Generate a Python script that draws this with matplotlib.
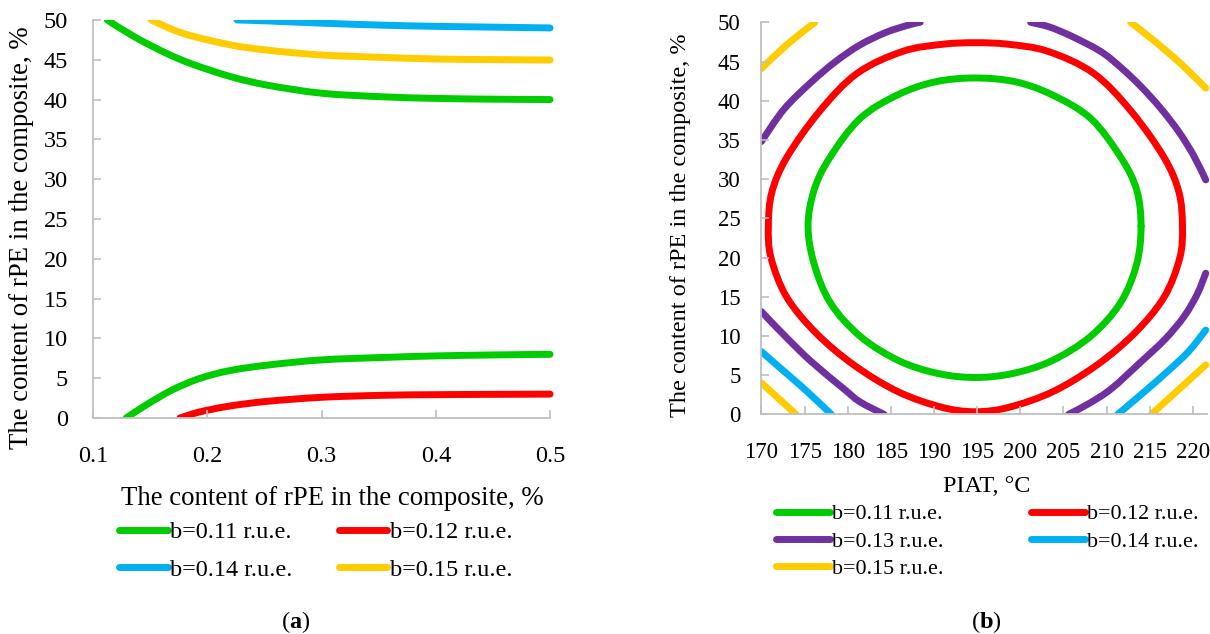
import matplotlib
matplotlib.use('Agg')
import matplotlib.pyplot as plt
import numpy as np
from matplotlib.lines import Line2D
from matplotlib.path import Path
from matplotlib.patches import PathPatch
from matplotlib.transforms import Bbox, TransformedBbox

plt.rcParams['font.family'] = 'Liberation Serif'
plt.rcParams['mathtext.fontset'] = 'custom'
plt.rcParams['mathtext.rm'] = 'Liberation Serif'
plt.rcParams['mathtext.bf'] = 'Liberation Serif:bold'

GREEN = '#00cc00'
RED = '#ff0000'
PURPLE = '#7030a0'
BLUE = '#00b0f0'
YELLOW = '#ffcc00'
AXIS = '#bfbfbf'

# ---- panel (a): content of rPE vs content of rPE
a_x_011_up = [0.1124, 0.136, 0.163, 0.186, 0.22, 0.253, 0.3, 0.353, 0.4, 0.45, 0.5]
a_y_011_up = [50.0, 47.9, 45.9, 44.5, 42.9, 41.8, 40.8, 40.35, 40.15, 40.05, 40.0]
a_x_011_lo = [0.129, 0.146, 0.169, 0.193, 0.2195, 0.253, 0.3, 0.353, 0.4, 0.45, 0.5]
a_y_011_lo = [0.0, 1.6, 3.5, 4.95, 5.95, 6.65, 7.3, 7.6, 7.8, 7.92, 8.0]
a_x_012 = [0.176, 0.193, 0.2195, 0.253, 0.3, 0.353, 0.4, 0.45, 0.5]
a_y_012 = [0.0, 0.75, 1.5, 2.1, 2.6, 2.85, 2.93, 2.97, 3.0]
a_x_014 = [0.226, 0.253, 0.3, 0.353, 0.4, 0.45, 0.5]
a_y_014 = [50.0, 49.88, 49.6, 49.35, 49.2, 49.1, 49.0]
a_x_015 = [0.151, 0.179, 0.2195, 0.253, 0.3, 0.353, 0.4, 0.45, 0.5]
a_y_015 = [50.0, 48.3, 46.9, 46.2, 45.6, 45.3, 45.1, 45.02, 44.97]

# ---- panel (b): content of rPE vs PIAT
b_x_011 = [214.0, 213.5, 211.7, 208.2, 203.8, 199.5, 194.8, 190.1, 185.7, 181.4, 177.9, 176.1,
           175.4, 176.1, 178.0, 181.5, 186.0, 190.5, 194.8, 199.1, 203.6, 208.1, 211.6, 213.5,
           214.0]
b_y_011 = [24.0, 28.6, 32.7, 37.7, 40.7, 42.4, 42.9, 42.4, 40.7, 37.7, 32.7, 28.6,
           24.0, 19.2, 14.2, 9.9, 6.8, 5.2, 4.7, 5.2, 6.8, 9.9, 14.2, 19.2,
           24.0]
b_x_012 = [218.8, 218.4, 216.7, 212.9, 208.5, 203.2, 198.6, 194.8, 191.0, 186.4, 181.1, 176.7,
           172.9, 171.2, 170.8, 171.1, 172.9, 176.3, 180.7, 185.8, 190.9, 194.8, 198.7, 203.8,
           208.9, 213.3, 216.7, 218.5, 218.8]
b_y_012 = [24.0, 28.3, 32.7, 38.6, 43.5, 46.3, 47.2, 47.4, 47.2, 46.3, 43.5, 38.6,
           32.7, 28.3, 24.0, 20.0, 15.0, 10.4, 6.3, 2.9, 0.9, 0.33, 0.9, 2.9,
           6.3, 10.4, 15.0, 20.0, 24.0]
b_x_013_ul = [170.0, 172.6, 175.8, 178.6, 181.4, 184.4, 187.2, 188.4]
b_y_013_ul = [34.8, 38.9, 42.4, 45.0, 47.1, 48.7, 49.7, 50.0]
b_x_013_ur = [201.2, 203.4, 206.0, 209.3, 211.6, 214.0, 216.3, 218.4, 220.1, 221.5]
b_y_013_ur = [50.0, 49.4, 48.2, 46.3, 44.3, 41.8, 39.0, 36.0, 33.0, 29.9]
b_x_013_ll = [170.0, 172.8, 175.8, 179.6, 181.4, 184.2]
b_y_013_ll = [13.1, 9.9, 6.7, 3.2, 1.6, 0.0]
b_x_013_lr = [205.6, 208.0, 210.6, 213.9, 216.8, 219.0, 220.5, 221.5]
b_y_013_lr = [0.0, 1.4, 3.3, 6.6, 9.6, 12.5, 15.3, 18.0]
b_x_014_ll = [170.0, 172.6, 175.2, 178.1]
b_y_014_ll = [8.0, 5.5, 3.0, 0.0]
b_x_014_lr = [211.3, 214.3, 217.0, 219.5, 221.5]
b_y_014_lr = [0.0, 2.8, 5.4, 8.0, 10.75]
b_x_015_ll = [170.0, 172.0, 174.0]
b_y_015_ll = [4.0, 2.0, 0.0]
b_x_015_lr = [215.2, 218.4, 221.5]
b_y_015_lr = [0.0, 3.2, 6.3]
b_x_015_ul = [170.0, 173.0, 176.2]
b_y_015_ul = [44.1, 47.2, 50.0]
b_x_015_ur = [212.8, 215.0, 217.3, 219.5, 221.5]
b_y_015_ur = [50.0, 48.1, 46.0, 43.8, 41.6]

a_xticks = [0.1, 0.2, 0.3, 0.4, 0.5]
b_xticks = [170, 175, 180, 185, 190, 195, 200, 205, 210, 215, 220]
yticks = [0, 5, 10, 15, 20, 25, 30, 35, 40, 45, 50]
labels = ['b=0.11 r.u.e.', 'b=0.12 r.u.e.', 'b=0.13 r.u.e.', 'b=0.14 r.u.e.', 'b=0.15 r.u.e.']
ylab = 'The content of rPE in the composite, %'


def smooth_path(x, y):
    # smoothed line through the points (like Excel's "smoothed line"), Catmull-Rom as Bezier
    p = np.column_stack([x, y]).astype(float)
    n = len(p)
    closed = np.allclose(p[0], p[-1])
    verts = [p[0]]
    for i in range(n - 1):
        p0 = p[i - 1] if i > 0 else (p[-2] if closed else p[0])
        p3 = p[i + 2] if i + 2 < n else (p[1] if closed else p[-1])
        verts += [p[i] + (p[i + 1] - p0) / 6, p[i + 1] - (p3 - p[i]) / 6, p[i + 1]]
    codes = [Path.MOVETO] + [Path.CURVE4] * (3 * (n - 1))
    return Path(verts, codes)


def curve(ax, x, y, color, xmax_clip):
    pp = PathPatch(smooth_path(x, y), fill=False, edgecolor=color, lw=5,
                   capstyle='round', joinstyle='round')
    ax.add_patch(pp)
    pp.set_clip_path(None)
    ylo, yhi = ax.get_ylim()
    pp.set_clip_box(TransformedBbox(Bbox([[ax.get_xlim()[0], ylo], [xmax_clip, yhi]]), ax.transData))
    return pp


def style(ax, fs, xpad, ypad):
    for s in ['top', 'right']:
        ax.spines[s].set_visible(False)
    for s in ['left', 'bottom']:
        ax.spines[s].set_color(AXIS)
        ax.spines[s].set_linewidth(1.3)
    ax.tick_params(direction='in', length=5.5, width=1.2, color=AXIS, labelsize=fs)
    ax.tick_params(axis='x', pad=xpad)
    ax.tick_params(axis='y', pad=ypad)
    ax.set_yticks(yticks)


fig = plt.figure(figsize=(12.1, 6.34), dpi=100)

# panel (a)
ax1 = fig.add_axes([0.0769, 0.3407, 0.3777, 0.6278])
ax1.set_xlim(0.1, 0.5)
ax1.set_ylim(0, 50)
curve(ax1, a_x_011_up, a_y_011_up, GREEN, 0.52)
curve(ax1, a_x_011_lo, a_y_011_lo, GREEN, 0.52)
curve(ax1, a_x_012, a_y_012, RED, 0.52)
curve(ax1, a_x_014, a_y_014, BLUE, 0.52)
curve(ax1, a_x_015, a_y_015, YELLOW, 0.52)
style(ax1, 17.5, 20, 18)
ax1.set_xticks(a_xticks)
ax1.set_xticklabels(['%.1f' % v for v in a_xticks])
fig.text(0.0174, 0.6254, ylab, rotation=90, ha='center', va='center', fontsize=19.3)
fig.text(0.2744, 0.213, ylab, ha='center', va='center', fontsize=19.3)
ha = [Line2D([], [], color=c, lw=5, solid_capstyle='round') for c in [GREEN, BLUE, RED, YELLOW]]
fig.legend(ha, [labels[0], labels[3], labels[1], labels[4]], ncol=2, loc='upper left',
           bbox_to_anchor=(0.0983, 0.178), frameon=False, fontsize=17.5, borderpad=0,
           borderaxespad=0, handlelength=2.0, handletextpad=0.1, columnspacing=1.9,
           labelspacing=0.65)
fig.text(0.2444, 0.019, r'($\mathbf{a}$)', ha='center', va='center', fontsize=17.5)

# panel (b)
ax2 = fig.add_axes([0.6293, 0.3465, 0.3679, 0.6183])
ax2.set_xlim(170, 221.6)
ax2.set_ylim(0, 50)
curve(ax2, b_x_011, b_y_011, GREEN, 223)
curve(ax2, b_x_012, b_y_012, RED, 223)
for xs, ys in [(b_x_013_ul, b_y_013_ul), (b_x_013_ur, b_y_013_ur),
               (b_x_013_ll, b_y_013_ll), (b_x_013_lr, b_y_013_lr)]:
    curve(ax2, xs, ys, PURPLE, 223)
for xs, ys in [(b_x_014_ll, b_y_014_ll), (b_x_014_lr, b_y_014_lr)]:
    curve(ax2, xs, ys, BLUE, 223)
for xs, ys in [(b_x_015_ll, b_y_015_ll), (b_x_015_lr, b_y_015_lr),
               (b_x_015_ul, b_y_015_ul), (b_x_015_ur, b_y_015_ur)]:
    curve(ax2, xs, ys, YELLOW, 223)
style(ax2, 16.5, 20, 15)
ax2.set_xticks(b_xticks)
fig.text(0.5625, 0.645, ylab, rotation=90, ha='center', va='center', fontsize=17.5)
fig.text(0.8155, 0.232, 'PIAT, °C', ha='center', va='center', fontsize=17.5)
hb = [Line2D([], [], color=c, lw=5, solid_capstyle='round') for c in [GREEN, PURPLE, YELLOW, RED, BLUE]]
fig.legend(hb, [labels[0], labels[2], labels[4], labels[1], labels[3]], ncol=2, loc='upper left',
           bbox_to_anchor=(0.6413, 0.205), frameon=False, fontsize=15.8, borderpad=0,
           borderaxespad=0, handlelength=2.45, handletextpad=0.1, columnspacing=4.0,
           labelspacing=0.32)
fig.text(0.8147, 0.019, r'($\mathbf{b}$)', ha='center', va='center', fontsize=17.5)

fig.savefig('out.png', dpi=100)
